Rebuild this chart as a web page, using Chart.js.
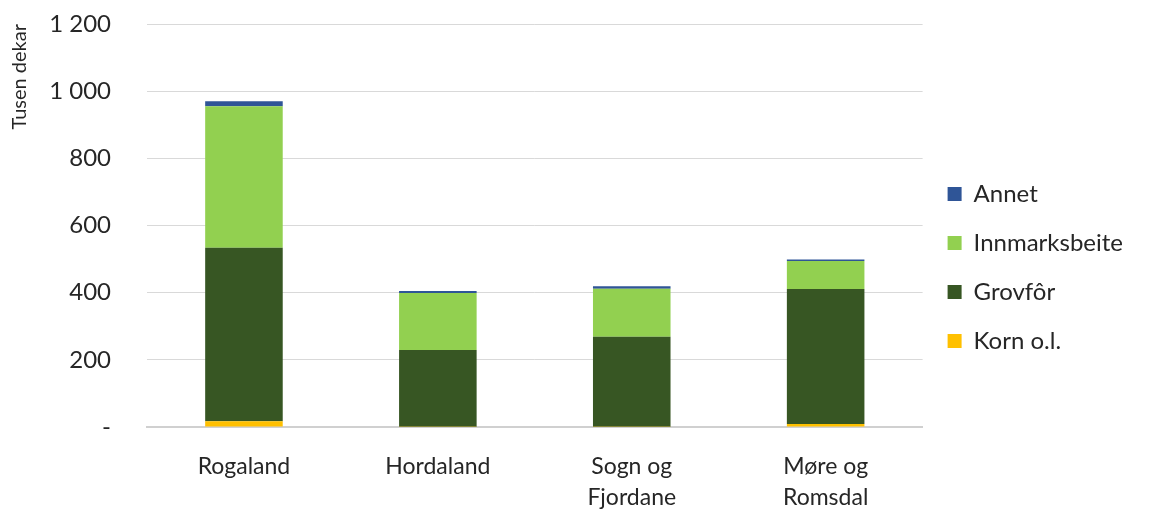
<!DOCTYPE html>
<html lang="no">
<head>
  <meta charset="UTF-8">
  <title>Tusen dekar</title>
  <script src="https://cdn.jsdelivr.net/npm/chart.js"></script>
  <style>
    html, body { margin: 0; padding: 0; background: #fff; }
    .wrap { width: 1158px; height: 511px; }
  </style>
</head>
<body>
  <div class="wrap"><canvas id="myChart"></canvas></div>
<script>
  // data (tusen dekar)
  const fylker = ['Rogaland', 'Hordaland', ['Sogn og', 'Fjordane'], ['Møre og', 'Romsdal']];
  const korn = [17, 1, 1, 9];
  const grovfor = [517, 228, 268, 402];
  const innmarksbeite = [421, 170, 143, 83];
  const annet = [15, 6, 7, 5];
  const yTicks = [0, 200, 400, 600, 800, 1000, 1200];

  const fnt = "Lato, 'Liberation Sans', sans-serif";
  const txt = '#262626';

  const ctx = document.getElementById('myChart');
  new Chart(ctx, {
    type: 'bar',
    data: {
      labels: fylker,
      datasets: [
        { label: 'Korn o.l.', data: korn, backgroundColor: '#FFC000' },
        { label: 'Grovfôr', data: grovfor, backgroundColor: '#375623' },
        { label: 'Innmarksbeite', data: innmarksbeite, backgroundColor: '#92D050' },
        { label: 'Annet', data: annet, backgroundColor: '#2F5597' }
      ]
    },
    options: {
      responsive: true,
      maintainAspectRatio: false,
      animation: false,
      layout: { padding: { top: 24, right: 25, left: 0, bottom: 0 } },
      datasets: { bar: { categoryPercentage: 1, barPercentage: 0.4 } },
      plugins: {
        tooltip: { enabled: false },
        legend: {
          position: 'right',
          reverse: true,
          labels: {
            boxWidth: 14,
            boxHeight: 14,
            padding: 25,
            color: txt,
            font: { family: fnt, size: 24 }
          }
        }
      },
      scales: {
        x: {
          stacked: true,
          grid: { display: false, drawTicks: false },
          border: { color: '#d0d0d0', width: 2 },
          afterFit: s => { s.height = 84; },
          ticks: {
            color: txt,
            padding: 24,
            maxRotation: 0,
            font: { family: fnt, size: 23, lineHeight: 1.35 }
          }
        },
        y: {
          stacked: true,
          min: 0,
          max: 1200,
          afterBuildTicks: axis => { axis.ticks = yTicks.map(v => ({ value: v })); },
          afterFit: s => { s.width = 147; s.paddingTop = 0; s.paddingBottom = 0; },
          grid: { color: '#d9d9d9', lineWidth: 1, drawTicks: false },
          border: { display: false },
          title: {
            display: true,
            text: 'Tusen dekar',
            align: 'end',
            color: txt,
            font: { family: fnt, size: 20 },
            padding: { top: 8, bottom: 0 }
          },
          ticks: {
            color: txt,
            padding: 36,
            font: { family: fnt, size: 24 },
            callback: v => v === 0 ? '-' : String(v).replace(/\B(?=(\d{3})+(?!\d))/g, ' ')
          }
        }
      }
    }
  });
</script>
</body>
</html>
